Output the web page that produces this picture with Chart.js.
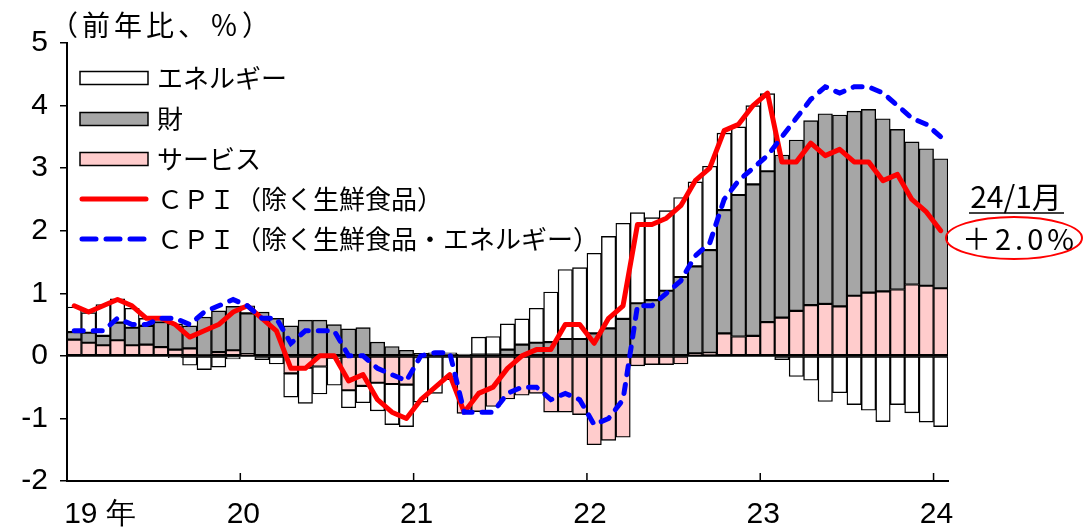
<!DOCTYPE html>
<html><head><meta charset="utf-8">
<script src="https://cdn.jsdelivr.net/npm/chart.js@4.4.1/dist/chart.umd.min.js"></script>
<style>html,body{margin:0;padding:0;background:#fff;}#wrap{width:1084px;height:531px;}</style>
</head><body><div id="wrap"><canvas id="c" width="1084" height="531"></canvas></div>
<script>
const categories = [
 '19/01','19/02','19/03','19/04','19/05','19/06','19/07','19/08','19/09','19/10','19/11','19/12',
 '20/01','20/02','20/03','20/04','20/05','20/06','20/07','20/08','20/09','20/10','20/11','20/12',
 '21/01','21/02','21/03','21/04','21/05','21/06','21/07','21/08','21/09','21/10','21/11','21/12',
 '22/01','22/02','22/03','22/04','22/05','22/06','22/07','22/08','22/09','22/10','22/11','22/12',
 '23/01','23/02','23/03','23/04','23/05','23/06','23/07','23/08','23/09','23/10','23/11','23/12',
 '24/01'];
const services = [
 0.26,0.21,0.17,0.25,0.17,0.18,0.14,0.10,0.12,0.01,0.06,0.09,
 0.03,0.00,0.00,-0.28,-0.19,-0.17,-0.03,-0.55,-0.48,-0.43,-0.45,-0.46,
 -0.02,0.00,0.00,-0.92,-0.89,-0.81,-0.69,-0.63,-0.60,-0.90,-0.90,-0.94,
 -1.42,-1.35,-1.30,-0.16,-0.14,-0.14,-0.13,0.04,0.05,0.36,0.31,0.32,
 0.54,0.61,0.72,0.81,0.83,0.79,0.96,1.01,1.03,1.06,1.14,1.12,
 1.08];
const goods = [
 0.12,0.16,0.15,0.28,0.28,0.30,0.40,0.41,0.36,0.61,0.66,0.70,
 0.65,0.70,0.60,0.48,0.57,0.57,0.50,0.43,0.45,0.22,0.15,0.09,
 0.04,0.05,0.05,0.03,0.02,0.02,0.10,0.18,0.21,0.22,0.27,0.27,
 0.36,0.44,0.59,0.84,0.89,1.04,1.26,1.39,1.64,1.97,2.26,2.42,
 2.41,2.60,2.73,2.95,3.04,3.06,2.95,2.93,2.76,2.56,2.28,2.19,
 2.07];
const energy = [
 0.40,0.32,0.50,0.38,0.31,0.12,0.04,-0.03,-0.15,-0.22,-0.18,-0.05,
 0.12,-0.06,-0.13,-0.38,-0.57,-0.44,-0.44,-0.28,-0.27,-0.45,-0.65,-0.67,
 -0.72,-0.60,-0.38,0.00,0.28,0.29,0.41,0.41,0.55,0.80,1.11,1.14,
 1.28,1.47,1.53,1.45,1.32,1.28,1.27,1.35,1.34,1.23,1.09,1.26,
 1.24,-0.06,-0.33,-0.39,-0.73,-0.59,-0.78,-0.87,-1.05,-0.78,-0.91,-1.06,
 -1.13];
const cpiCore = [
 0.8,0.7,0.8,0.9,0.8,0.6,0.6,0.5,0.3,0.4,0.5,0.7,
 0.8,0.6,0.4,-0.2,-0.2,0.0,0.0,-0.4,-0.3,-0.7,-0.9,-1.0,
 -0.7,-0.5,-0.3,-0.9,-0.6,-0.5,-0.2,0.0,0.1,0.1,0.5,0.5,
 0.2,0.6,0.8,2.1,2.1,2.2,2.4,2.8,3.0,3.6,3.7,4.0,
 4.2,3.1,3.1,3.4,3.2,3.3,3.1,3.1,2.8,2.9,2.5,2.3,
 2.0];
const cpiCoreCore = [
 0.4,0.4,0.4,0.6,0.5,0.5,0.6,0.6,0.5,0.7,0.8,0.9,
 0.8,0.6,0.6,0.2,0.4,0.4,0.4,0.0,0.0,-0.2,-0.3,-0.4,
 0.0,0.05,0.05,-0.9,-0.9,-0.9,-0.6,-0.5,-0.5,-0.7,-0.6,-0.7,
 -1.1,-1.0,-0.7,0.8,0.8,1.0,1.2,1.6,1.8,2.5,2.8,3.0,
 3.2,3.5,3.8,4.1,4.3,4.2,4.3,4.3,4.2,4.0,3.8,3.7,
 3.5];
const yearTickPositions = ['19/01','20/01','21/01','22/01','23/01','24/01'];
const yearTickLabels = ['19 年','20','21','22','23','24'];
const yTicks = [-2,-1,0,1,2,3,4,5];
const seriesNames = ['サービス','財','エネルギー','ＣＰＩ（除く生鮮食品）','ＣＰＩ（除く生鮮食品・エネルギー）'];
const unitLabel = '（前年比、％）';
const noteDate = '24/1月';
const noteValue = '＋2.0%';

const FONT_JP = "'Noto Sans CJK JP','Noto Sans',sans-serif";
const FONT_NUM = "'Liberation Sans Narrow','Liberation Sans',Arial,sans-serif";
const pts = arr => arr.map((v, i) => ({x: i + 0.5, y: v}));

const barStyle = {borderColor:'#000', borderWidth:1.4, borderSkipped:false, stack:'bars', order:2, barPercentage:1, categoryPercentage:1};

const decor = {
  id: 'decor',
  beforeDatasetDraw(chart, args) {
    if (args.index !== 3) return;
    const {ctx, chartArea, scales:{y}} = chart;
    const y0 = y.getPixelForValue(0);
    ctx.save(); ctx.strokeStyle = '#000'; ctx.lineWidth = 2;
    ctx.beginPath(); ctx.moveTo(chartArea.left, y0); ctx.lineTo(chartArea.right, y0); ctx.stroke();
    ctx.restore();
  },
  afterDraw(chart) {
    const {ctx, chartArea, scales:{x}} = chart;
    ctx.save();
    ctx.strokeStyle = '#000'; ctx.lineWidth = 1.5;
    x.ticks.forEach(t => {
      const px = x.getPixelForValue(t.value);
      ctx.beginPath(); ctx.moveTo(px, chartArea.bottom); ctx.lineTo(px, chartArea.bottom - 8); ctx.stroke();
    });
    ctx.fillStyle = '#000'; ctx.textBaseline = 'middle'; ctx.textAlign = 'left';
    ctx.font = '28px ' + FONT_JP;
    ctx.letterSpacing = '4px';
    ctx.fillText(unitLabel, 50, 25);
    ctx.letterSpacing = '0px';
    const rows = [{ds:2, y:78}, {ds:1, y:119}, {ds:0, y:159}, {ds:3, y:199}, {ds:4, y:239}];
    rows.forEach(r => {
      const ds = chart.data.datasets[r.ds];
      if (ds.type === 'line') {
        ctx.save();
        ctx.strokeStyle = ds.borderColor; ctx.lineWidth = 5; ctx.lineCap = 'round';
        ctx.setLineDash(ds.borderDash ? [14, 10] : []);
        ctx.beginPath(); ctx.moveTo(82, r.y); ctx.lineTo(146, r.y); ctx.stroke();
        ctx.restore();
      } else {
        ctx.fillStyle = ds.backgroundColor; ctx.fillRect(80, r.y - 6.5, 68, 13);
        ctx.strokeStyle = '#000'; ctx.lineWidth = 1.5; ctx.strokeRect(80, r.y - 6.5, 68, 13);
      }
      ctx.fillStyle = '#000'; ctx.font = '26px ' + FONT_JP; ctx.textBaseline = 'middle';
      ctx.fillText(ds.label, 157, r.y);
    });
    ctx.textAlign = 'center';
    ctx.font = '30px ' + FONT_JP;
    ctx.fillText(noteDate, 1016, 197);
    ctx.strokeStyle = '#000'; ctx.lineWidth = 1.5;
    ctx.beginPath(); ctx.moveTo(969, 213); ctx.lineTo(1064, 213); ctx.stroke();
    ctx.font = '29px ' + FONT_JP;
    ctx.letterSpacing = '4px';
    ctx.fillText(noteValue, 1020, 239);
    ctx.letterSpacing = '0px';
    ctx.strokeStyle = '#ff0000'; ctx.lineWidth = 2;
    ctx.beginPath(); ctx.ellipse(1014, 238, 68, 21, 0, 0, Math.PI * 2); ctx.stroke();
    ctx.restore();
  }
};

new Chart(document.getElementById('c'), {
  type: 'bar',
  data: { datasets: [
    Object.assign({label: seriesNames[0], data: pts(services), backgroundColor:'#ffcccc'}, barStyle),
    Object.assign({label: seriesNames[1], data: pts(goods), backgroundColor:'#a6a6a6'}, barStyle),
    Object.assign({label: seriesNames[2], data: pts(energy), backgroundColor:'#ffffff'}, barStyle),
    {type:'line', label: seriesNames[3], data: pts(cpiCore), borderColor:'#ff0000', backgroundColor:'#ff0000',
     borderWidth:5, pointRadius:0, tension:0, stack:'red', order:1, borderJoinStyle:'round', borderCapStyle:'round', fill:false},
    {type:'line', label: seriesNames[4], data: pts(cpiCoreCore), borderColor:'#0000ff', backgroundColor:'#0000ff',
     borderWidth:5, borderDash:[9,10], borderCapStyle:'round', pointRadius:0, tension:0, stack:'blue', order:0, fill:false}
  ]},
  options: {
    responsive:false, animation:false,
    layout:{padding:{left:0, right:136, top:43, bottom:0}},
    plugins:{legend:{display:false}, tooltip:{enabled:false}},
    scales:{
      x:{type:'linear', min:0, max:categories.length, stacked:true, offset:false,
        afterBuildTicks: s => { s.ticks = yearTickPositions.map(p => ({value: categories.indexOf(p)})); },
        ticks:{callback:(v, i) => i === 0 ? '\u2003\u2003' + yearTickLabels[0] : yearTickLabels[i],
          font:{family:FONT_NUM, size:30}, color:'#000', padding:16, maxRotation:0, autoSkip:false, labelOffset:3},
        grid:{display:false, drawTicks:false},
        border:{display:true, color:'#000', width:2},
        afterFit: s => { s.height = 50; s.paddingLeft = 0; s.paddingRight = 0; }
      },
      y:{min:-2, max:5, stacked:true,
        afterBuildTicks: s => { s.ticks = yTicks.map(v => ({value: v})); },
        ticks:{font:{family:FONT_NUM, size:30}, color:'#000', padding:12},
        grid:{drawOnChartArea:false, drawTicks:true, tickLength:7, color:'#000', lineWidth:1.5},
        border:{display:true, color:'#000', width:2},
        afterFit: s => { s.width = 67; }
      }
    }
  },
  plugins:[decor]
});
</script></body></html>
